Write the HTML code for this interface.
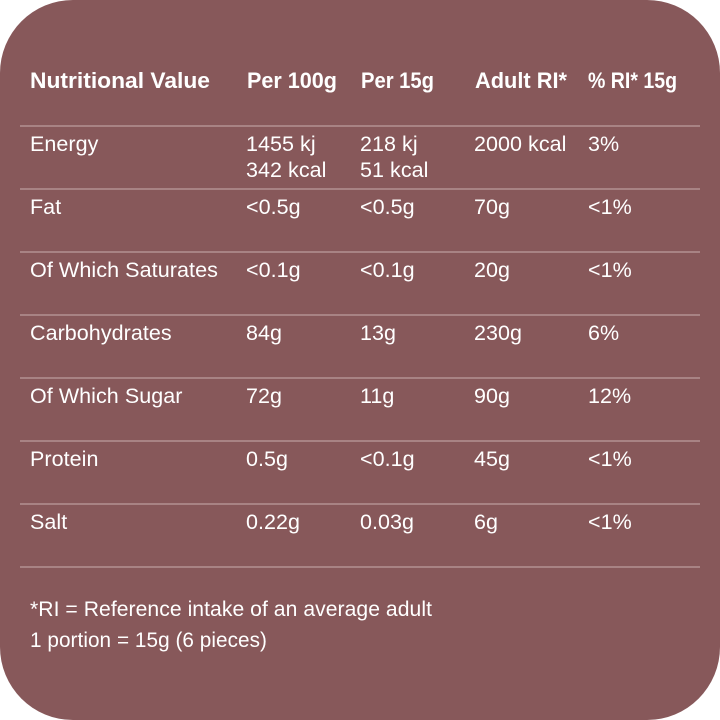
<!DOCTYPE html>
<html><head><meta charset="utf-8"><style>
html,body{margin:0;padding:0;background:#fff;}
svg{display:block;}
text{font-family:"Liberation Sans",sans-serif;fill:#fff;}
.h{font-size:22px;font-weight:bold;}
.r{font-size:21.5px;letter-spacing:0.05px;}
</style></head><body>
<svg width="720" height="720" viewBox="0 0 720 720" xmlns="http://www.w3.org/2000/svg">
<rect x="0" y="0" width="720" height="720" rx="73" ry="73" fill="#87585a"/>
<g fill="#b08e8f">
<rect x="20" y="125.2" width="680" height="1.6"/>
<rect x="20" y="188.2" width="680" height="1.6"/>
<rect x="20" y="251.2" width="680" height="1.6"/>
<rect x="20" y="314.2" width="680" height="1.6"/>
<rect x="20" y="377.2" width="680" height="1.6"/>
<rect x="20" y="440.2" width="680" height="1.6"/>
<rect x="20" y="503.2" width="680" height="1.6"/>
<rect x="20" y="566.2" width="680" height="1.6"/>
</g>
<text class="h" x="30" y="88" textLength="180" lengthAdjust="spacingAndGlyphs">Nutritional Value</text>
<text class="h" x="247" y="88" textLength="90" lengthAdjust="spacingAndGlyphs">Per 100g</text>
<text class="h" x="361" y="88" textLength="73" lengthAdjust="spacingAndGlyphs">Per 15g</text>
<text class="h" x="475" y="88" textLength="92" lengthAdjust="spacingAndGlyphs">Adult RI*</text>
<text class="h" x="588" y="88" textLength="89" lengthAdjust="spacingAndGlyphs">% RI* 15g</text>

<text class="r" x="30" y="151">Energy</text>
<text class="r" x="246" y="151">1455 kj</text>
<text class="r" x="246" y="177">342 kcal</text>
<text class="r" x="360" y="151">218 kj</text>
<text class="r" x="360" y="177">51 kcal</text>
<text class="r" x="474" y="151">2000 kcal</text>
<text class="r" x="588" y="151">3%</text>

<text class="r" x="30" y="214">Fat</text>
<text class="r" x="246" y="214">&lt;0.5g</text>
<text class="r" x="360" y="214">&lt;0.5g</text>
<text class="r" x="474" y="214">70g</text>
<text class="r" x="588" y="214">&lt;1%</text>

<text class="r" x="30" y="277" textLength="188" lengthAdjust="spacingAndGlyphs">Of Which Saturates</text>
<text class="r" x="246" y="277">&lt;0.1g</text>
<text class="r" x="360" y="277">&lt;0.1g</text>
<text class="r" x="474" y="277">20g</text>
<text class="r" x="588" y="277">&lt;1%</text>

<text class="r" x="30" y="340">Carbohydrates</text>
<text class="r" x="246" y="340">84g</text>
<text class="r" x="360" y="340">13g</text>
<text class="r" x="474" y="340">230g</text>
<text class="r" x="588" y="340">6%</text>

<text class="r" x="30" y="403">Of Which Sugar</text>
<text class="r" x="246" y="403">72g</text>
<text class="r" x="360" y="403">11g</text>
<text class="r" x="474" y="403">90g</text>
<text class="r" x="588" y="403">12%</text>

<text class="r" x="30" y="466">Protein</text>
<text class="r" x="246" y="466">0.5g</text>
<text class="r" x="360" y="466">&lt;0.1g</text>
<text class="r" x="474" y="466">45g</text>
<text class="r" x="588" y="466">&lt;1%</text>

<text class="r" x="30" y="529">Salt</text>
<text class="r" x="246" y="529">0.22g</text>
<text class="r" x="360" y="529">0.03g</text>
<text class="r" x="474" y="529">6g</text>
<text class="r" x="588" y="529">&lt;1%</text>

<text class="r" x="30" y="616" textLength="402" lengthAdjust="spacingAndGlyphs">*RI = Reference intake of an average adult</text>
<text class="r" x="30" y="647" textLength="237" lengthAdjust="spacingAndGlyphs">1 portion = 15g (6 pieces)</text>
</svg>
</body></html>
